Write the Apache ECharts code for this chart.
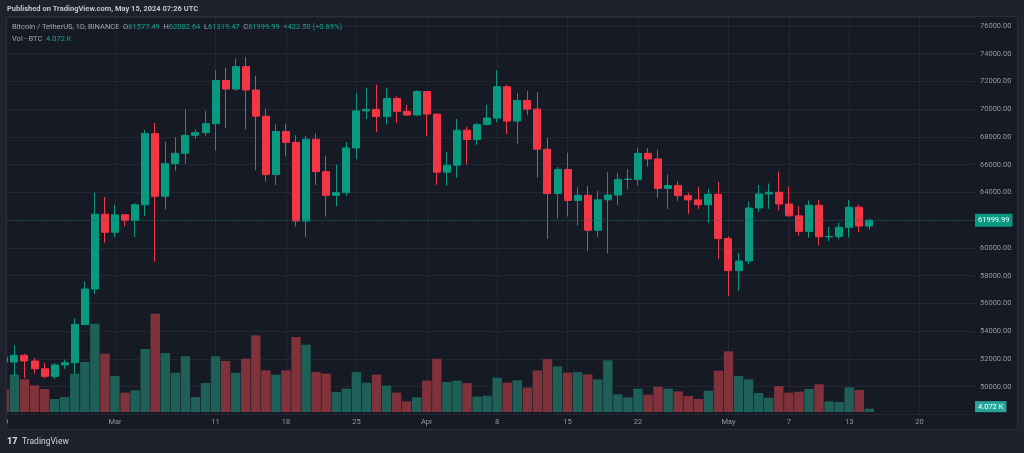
<!DOCTYPE html>
<html><head><meta charset="utf-8">
<script src="https://cdn.jsdelivr.net/npm/echarts@6/dist/echarts.min.js"></script>
<style>html,body{margin:0;padding:0;background:#161a25;}#c{width:1024px;height:453px;}</style>
</head><body><div id="c"></div>
<script>
// ---- data (BTC/USDT daily, Binance) ----
const dates = [
'2024-02-19','2024-02-20','2024-02-21','2024-02-22','2024-02-23','2024-02-24','2024-02-25','2024-02-26','2024-02-27','2024-02-28','2024-02-29',
'2024-03-01','2024-03-02','2024-03-03','2024-03-04','2024-03-05','2024-03-06','2024-03-07','2024-03-08','2024-03-09','2024-03-10',
'2024-03-11','2024-03-12','2024-03-13','2024-03-14','2024-03-15','2024-03-16','2024-03-17','2024-03-18','2024-03-19','2024-03-20',
'2024-03-21','2024-03-22','2024-03-23','2024-03-24','2024-03-25','2024-03-26','2024-03-27','2024-03-28','2024-03-29','2024-03-30','2024-03-31',
'2024-04-01','2024-04-02','2024-04-03','2024-04-04','2024-04-05','2024-04-06','2024-04-07','2024-04-08','2024-04-09','2024-04-10',
'2024-04-11','2024-04-12','2024-04-13','2024-04-14','2024-04-15','2024-04-16','2024-04-17','2024-04-18','2024-04-19','2024-04-20',
'2024-04-21','2024-04-22','2024-04-23','2024-04-24','2024-04-25','2024-04-26','2024-04-27','2024-04-28','2024-04-29','2024-04-30',
'2024-05-01','2024-05-02','2024-05-03','2024-05-04','2024-05-05','2024-05-06','2024-05-07','2024-05-08','2024-05-09','2024-05-10',
'2024-05-11','2024-05-12','2024-05-13','2024-05-14','2024-05-15'];
const opens = [52137,51774,52258,51849,51288,50744,51568,51728,54476,57037,62432,
61130,62387,61987,63113,68245,63725,66074,66824,68124,68313,
68955,72078,71453,73072,71388,69499,65300,68393,67609,61937,
67840,65501,63796,63990,67210,69880,69988,69469,70780,69850,69582,
71280,69650,65463,65963,68488,67821,68896,69361,71620,69146,
70631,70007,67117,63924,65661,63419,63793,61277,63470,63818,
64941,64941,66819,66414,64290,64498,63770,63462,63118,63866,
60672,58364,59060,62882,63892,64013,63165,62313,61193,63074,
60799,60825,61484,62940,61577.49];
const closes = [51774,52258,51849,51288,50744,51568,51728,54476,57037,62432,61130,
62387,61987,63113,68245,63724,66074,66823,68124,68313,68955,
72078,71453,73072,71388,69499,65300,68393,67609,61937,67840,
65501,63796,63990,67209,69880,69988,69469,70780,69850,69582,71280,
69650,65463,65963,68487,67820,68896,69360,71620,69146,70631,
70006,67116,63924,65661,63419,63793,61277,63470,63818,64940,
64960,66819,66414,64290,64498,63770,63462,63118,63866,60672,
58364,59060,62882,63892,64013,63165,62313,61193,63074,60799,
60825,61484,62940,61577.49,61999.99];
const lows = [51677,50760,50625,50933,50590,50551,51280,50901,54450,56691,60364,
60777,61561,60800,62300,59005,62779,65551,66082,67861,68094,
67024,68620,71334,68555,65600,64780,64533,66594,61555,60775,
64529,62260,63000,63772,66385,69280,68359,68903,69009,69540,69562,
68062,64550,64493,65064,66011,67435,68824,69043,68210,67518,
69567,65086,60660,62134,62274,61600,59768,60803,59600,63090,
64237,64500,65852,63599,62794,63400,62461,62822,61812,59215,
56552,56911,58811,62600,62822,62700,62261,60888,60723,60187,
60487,60632,60749,61142,61319.47];
const highs = [52488,52985,52366,52065,51698,51700,51950,54910,57588,64000,63676,
63114,62433,63231,68499,69000,67641,67980,69990,68541,69887,
72800,73000,73650,73777,72419,70043,68904,68957,68124,68100,
68240,66649,65999,67628,71150,71561,71769,71552,70916,70321,71366,
71288,69675,66903,69291,68725,69000,70326,72797,71758,71172,
71305,71227,67931,65840,66867,64365,64475,64117,65450,65419,
65695,67232,67199,67070,65297,64800,63975,64384,64264,64769,
60830,59625,63333,64545,64646,65500,64422,63021,63421,63469,
61515,61818,63450,63118,62082.64];
// volume in thousands of BTC
const volumesK = [27.7,45.6,39.9,32.6,28.1,15.9,18.3,46.8,61.1,107.9,71.2,
44.0,23.6,26.5,76.9,120.1,72.0,48.0,68.0,18.3,35.4,
68.0,62.3,48.0,65.1,93.6,50.9,45.6,50.9,91.6,82.2,
48.8,46.8,24.4,28.5,48.8,35.8,45.6,32.2,23.6,13.0,17.9,
38.3,65.1,36.6,38.3,35.4,18.7,19.9,41.9,35.8,38.7,
29.7,50.9,64.7,55.8,48.0,48.8,46.0,39.9,63.1,21.6,
17.9,28.5,21.2,30.9,28.5,25.2,19.5,15.9,26.0,50.5,
74.1,44.0,39.9,23.2,17.5,31.7,23.6,24.8,28.1,33.8,
13.0,12.2,30.1,26.9,4.072];
const xTickDates = ['2024-02-19','2024-03-01','2024-03-11','2024-03-18','2024-03-25','2024-04-01','2024-04-08','2024-04-15','2024-04-22','2024-05-01','2024-05-07','2024-05-13','2024-05-20'];
const xTickLabels = ['19','Mar','11','18','25','Apr','8','15','22','May','7','13','20'];
const priceMin = 48000, priceMax = 76649, priceStep = 2000;

// ---- derived ----
const DAY = 86400000;
const t0 = Date.parse(dates[0] + 'T00:00:00Z');
const dayIdx = s => Math.round((Date.parse(s + 'T00:00:00Z') - t0) / DAY);
const xIdx = dates.map(dayIdx);
const tickIdx = xTickDates.map(dayIdx);
const labelMap = {}; tickIdx.forEach((v, i) => labelMap[v] = xTickLabels[i]);
const n = dates.length;
const last = n - 1;
const UP = '#089981', DOWN = '#f23645';
const UPV = '#1e5f58', DOWNV = '#80323a';
const FONT = 'Roboto, "Liberation Sans", sans-serif';
const candleData = xIdx.map((x, i) => [x, opens[i], closes[i], lows[i], highs[i]]);
const volData = xIdx.map((x, i) => ({value: [x, volumesK[i]], itemStyle: {color: closes[i] >= opens[i] ? UPV : DOWNV}}));
const chg = closes[last] - closes[last - 1];
const chgPct = chg / closes[last - 1] * 100;
const sgn = v => (v >= 0 ? '+' : '') + v.toFixed(2);

const chart = echarts.init(document.getElementById('c'), null, {renderer: 'canvas'});
const GRID_COLOR = '#222632';
chart.setOption({
  animation: false,
  backgroundColor: '#161a25',
  grid: {left: 4.37, right: 49, top: 17, bottom: 38.6, containLabel: false, outerBoundsMode: 'none'},
  xAxis: {
    type: 'value', min: 0, max: 96.51,
    axisLine: {show: false},
    axisTick: {show: false, customValues: tickIdx},
    axisLabel: {customValues: tickIdx, formatter: v => labelMap[v] || '', color: '#9598a1', fontSize: 7.5, fontFamily: FONT, margin: 4},
    splitLine: {show: true, lineStyle: {color: GRID_COLOR, width: 1}}
  },
  yAxis: [{
    type: 'value', position: 'right', min: priceMin, max: priceMax, interval: priceStep,
    axisLine: {show: false}, axisTick: {show: false},
    axisLabel: {formatter: v => v.toFixed(2), color: '#9598a1', fontSize: 7.5, fontFamily: FONT, margin: 5, showMinLabel: false, showMaxLabel: false},
    splitLine: {show: true, lineStyle: {color: GRID_COLOR, width: 1}}
  }, {
    type: 'value', min: -2.93, max: 482.3, show: false
  }],
  series: [{
    type: 'bar', name: 'Vol', yAxisIndex: 1, data: volData, barWidth: 9.4, z: 1,
    markLine: {
      silent: true, symbol: ['none', 'none'], animation: false,
      lineStyle: {color: 'rgba(0,0,0,0)', width: 0},
      label: {show: true, position: 'end', distance: 0, offset: [0, -2], formatter: volumesK[last].toFixed(3) + ' K',
        backgroundColor: '#26a69a', color: '#ffffff', fontSize: 7.5, fontFamily: FONT, padding: [2, 3, 1, 3]},
      data: [{yAxis: volumesK[last]}]
    }
  }, {
    type: 'candlestick', name: 'BTCUSDT', data: candleData, barWidth: 7.5, z: 3,
    itemStyle: {color: UP, color0: DOWN, borderColor: UP, borderColor0: DOWN, borderWidth: 1},
    markLine: {
      silent: true, symbol: ['none', 'none'], animation: false,
      lineStyle: {color: '#0d6a5b', type: [1, 2], width: 1},
      label: {show: true, position: 'end', distance: 0, formatter: closes[last].toFixed(2),
        backgroundColor: UP, color: '#ffffff', fontSize: 7.5, fontFamily: FONT, padding: [3, 3, 2, 3]},
      data: [{yAxis: closes[last]}]
    }
  }],
  graphic: {elements: [
    {type: 'rect', z: 100, shape: {x: 0, y: 0, width: 1024, height: 17}, style: {fill: '#1e222d'}},
    {type: 'rect', z: 100, shape: {x: 0, y: 429, width: 1024, height: 24}, style: {fill: '#1e222d'}},
    {type: 'rect', z: 100, shape: {x: 0, y: 0, width: 7, height: 453}, style: {fill: '#1e222d'}},
    {type: 'rect', z: 100, shape: {x: 1017, y: 0, width: 7, height: 453}, style: {fill: '#1e222d'}},
    {type: 'rect', z: 101, shape: {x: 6.5, y: 16.5, width: 1011, height: 413}, style: {fill: 'none', stroke: '#2a2e39', lineWidth: 1}},
    {type: 'text', z: 102, x: 7, y: 9, style: {text: 'Published on TradingView.com, May 15, 2024 07:26 UTC', fill: '#c3c5cb', fontSize: 7.5, fontWeight: 'bold', fontFamily: FONT, verticalAlign: 'middle'}},
    {type: 'text', z: 102, x: 12, y: 27, style: {
      text: '{t|Bitcoin / TetherUS, 1D, BINANCE}  {l|O}{v|' + opens[last].toFixed(2) + '}  {l|H}{v|' + highs[last].toFixed(2) + '}  {l|L}{v|' + lows[last].toFixed(2) + '}  {l|C}{v|' + closes[last].toFixed(2) + '}  {v|' + sgn(chg) + ' (' + sgn(chgPct) + '%)}',
      verticalAlign: 'middle', fontSize: 7.5, fontFamily: FONT,
      rich: {t: {fill: '#a3a6af', fontSize: 7.5, fontFamily: FONT}, l: {fill: '#a3a6af', fontSize: 7.5, fontFamily: FONT}, v: {fill: '#16a58c', fontSize: 7.5, fontFamily: FONT}}}},
    {type: 'text', z: 102, x: 12, y: 39, style: {
      text: '{t|Vol - BTC}  {v|' + volumesK[last].toFixed(3) + ' K}',
      verticalAlign: 'middle', fontSize: 7.5, fontFamily: FONT,
      rich: {t: {fill: '#a3a6af', fontSize: 7.5, fontFamily: FONT}, v: {fill: '#16a58c', fontSize: 7.5, fontFamily: FONT}}}},
    {type: 'text', z: 102, x: 7, y: 442, style: {text: '17', fill: '#d1d4dc', fontSize: 9, fontWeight: 900, fontFamily: FONT, verticalAlign: 'middle'}},
    {type: 'text', z: 102, x: 22, y: 442, style: {text: 'TradingView', fill: '#d1d4dc', fontSize: 8.5, fontFamily: FONT, verticalAlign: 'middle'}}
  ]}
});
</script></body></html>
